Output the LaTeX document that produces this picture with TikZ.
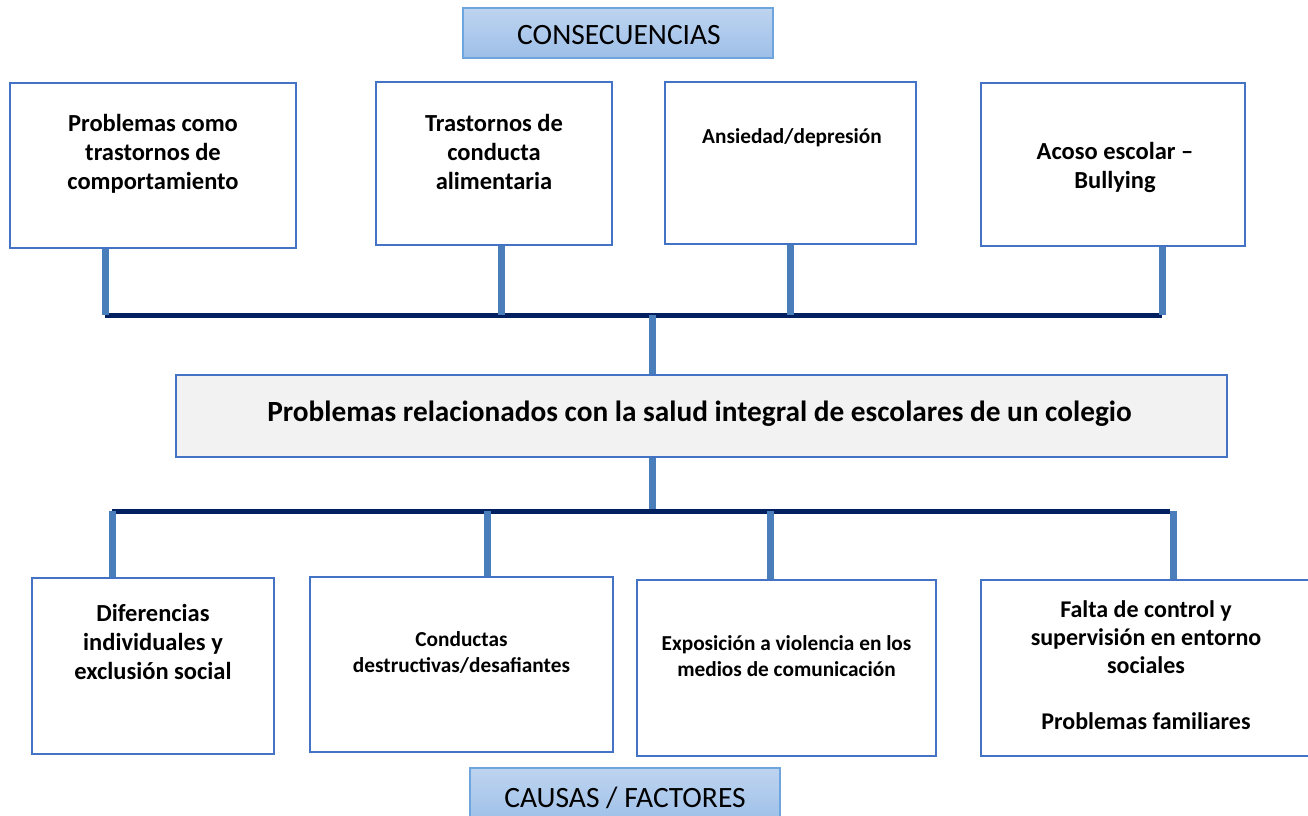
\documentclass[tikz,border=0pt]{standalone}
\usepackage{fontspec}
\setmainfont{Carlito}
\definecolor{boxblue}{RGB}{68,114,196}
\definecolor{vline}{RGB}{74,126,187}
\definecolor{navy}{RGB}{0,32,96}
\definecolor{hdrtop}{RGB}{190,212,240}
\definecolor{hdrbot}{RGB}{157,191,232}
\definecolor{hdrline}{RGB}{110,165,220}
\definecolor{centerfill}{RGB}{242,242,242}
\begin{document}
\begin{tikzpicture}[x=1pt,y=-1pt,
  box/.style={draw=boxblue,line width=2.4pt,fill=white,inner sep=0pt},
  hdr/.style={draw=hdrline,line width=1.5pt,top color=hdrtop,bottom color=hdrbot,inner sep=0pt},
  txt/.style={align=center,font=\bfseries\fontsize{24.5}{29}\selectfont,inner sep=0pt},
  txts/.style={align=center,font=\bfseries\fontsize{21.3}{26}\selectfont,inner sep=0pt},
  drop/.style={draw=vline,line width=7pt},
  bus/.style={draw=navy,line width=5pt}]
\useasboundingbox (0,0) rectangle (1308,815);
% header top
\node[hdr,minimum width=310,minimum height=50] (h1) at (618,33) {};
\node[font=\fontsize{29.5}{34}\selectfont,inner sep=0pt] (h1t) at (619,35) {CONSECUENCIAS};
% top boxes
\node[box,minimum width=286,minimum height=165] (c1) at (153,165.5) {};
\node[txt] (c1t) at (153,154) {Problemas como\\trastornos de\\comportamiento};
\node[box,minimum width=236,minimum height=163] (c2) at (494,163.5) {};
\node[txt] (c2t) at (494,152) {Trastornos de\\conducta\\alimentaria};
\node[box,minimum width=251,minimum height=162] (c3) at (790.5,163) {};
\node[txts] (c3t) at (792,138) {Ansiedad/depresión};
\node[box,minimum width=264,minimum height=163] (c4) at (1113,164.5) {};
\node[txt] (c4t) at (1115,167) {Acoso escolar –\\Bullying};
% top bus
\coordinate (u1) at (105,315);
\coordinate (u2) at (501,315);
\coordinate (u3) at (790,315);
\coordinate (u4) at (1162,315);
\coordinate (uc) at (652,315);
\draw[bus] (u1) -- (u4);
\draw[drop] (c1.south -| u1) -- (u1);
\draw[drop] (c2.south -| u2) -- (u2);
\draw[drop] (c3.south -| u3) -- (u3);
\draw[drop] (c4.south -| u4) -- (u4);
% center box
\node[draw=boxblue,line width=2.4pt,fill=centerfill,minimum width=1051,minimum height=82,inner sep=0pt] (m) at (701.5,416) {};
\node[font=\bfseries\fontsize{29.3}{34}\selectfont,inner sep=0pt] (mt) at (699.5,414) {Problemas relacionados con la salud integral de escolares de un colegio};
\draw[drop] (uc) -- (m.north -| uc);
% bottom bus
\coordinate (l1) at (112,511);
\coordinate (l2) at (487,511);
\coordinate (l3) at (770,511);
\coordinate (l4) at (1173,511);
\coordinate (lc) at (652,511);
\draw[drop] (m.south -| lc) -- (lc);
\draw[bus] (l1) -- (1170,511);
% bottom boxes
\node[box,minimum width=242,minimum height=176] (f1) at (153,666) {};
\node[txt] (f1t) at (153,642) {Diferencias\\individuales y\\exclusión social};
\node[box,minimum width=303,minimum height=175] (f2) at (461.5,664.5) {};
\node[txts] (f2t) at (461.5,652) {Conductas\\destructivas/desafiantes};
\node[box,minimum width=299,minimum height=176] (f3) at (786.5,668) {};
\node[txts] (f3t) at (786.5,656) {Exposición a violencia en los\\medios de comunicación};
\node[box,minimum width=335,minimum height=176] (f4) at (1148.5,668) {};
\node[txt,font=\bfseries\fontsize{24}{28}\selectfont] (f4t) at (1146,665) {Falta de control y\\supervisión en entorno\\sociales\\[28pt]Problemas familiares};
\draw[drop] (l1) -- (l1 |- f1.north);
\draw[drop] (l2) -- (l2 |- f2.north);
\draw[drop] (l3) -- (l3 |- f3.north);
\draw[drop] (l4) -- (l4 |- f4.north);
% header bottom
\node[hdr,minimum width=310,minimum height=56] (h2) at (625,796) {};
\node[font=\fontsize{29.5}{34}\selectfont,inner sep=0pt] (h2t) at (625,798) {CAUSAS / FACTORES};
\end{tikzpicture}
\end{document}
